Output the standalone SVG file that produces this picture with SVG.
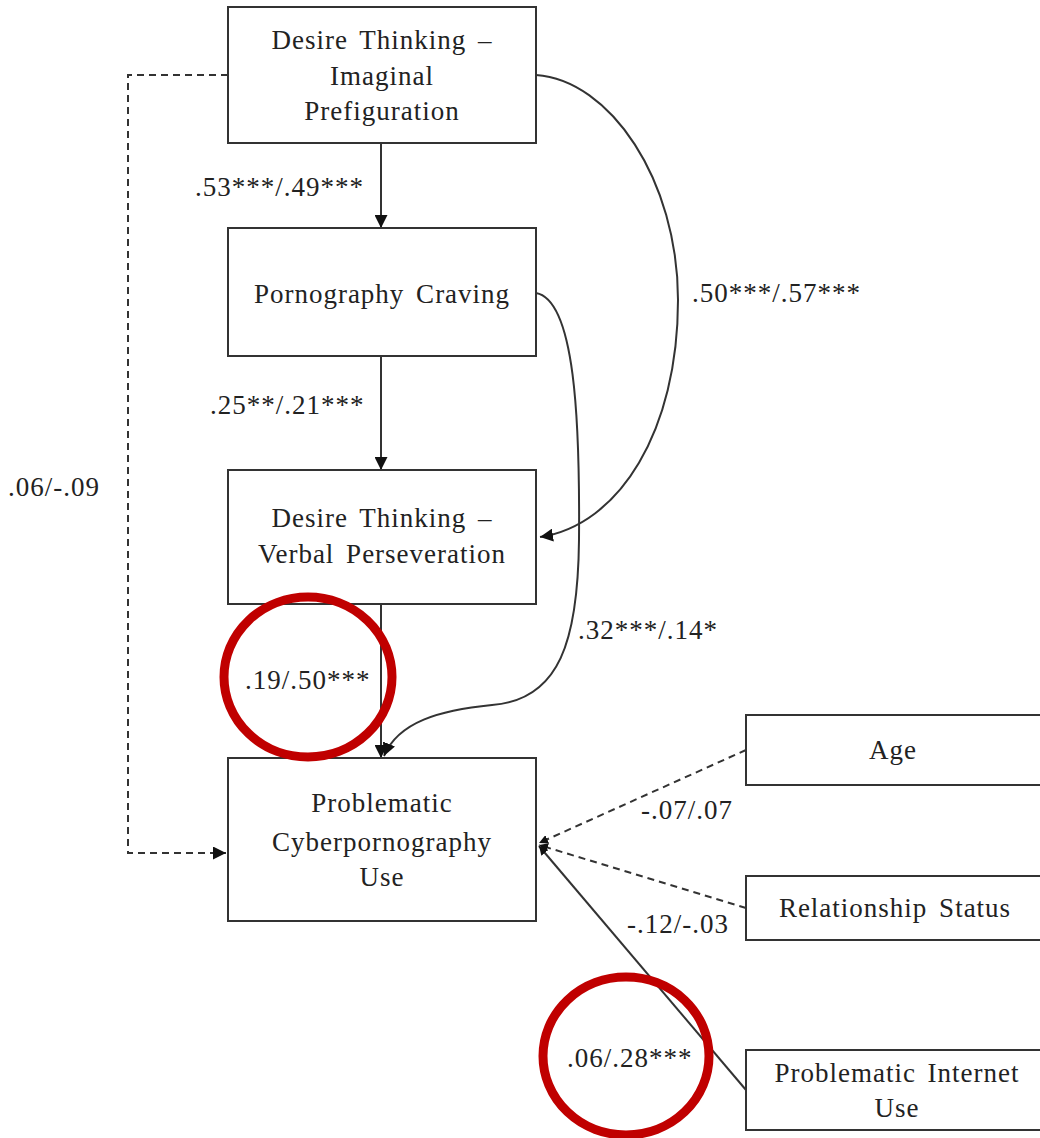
<svg xmlns="http://www.w3.org/2000/svg" width="1040" height="1138" viewBox="0 0 1040 1138">
<style>
.box{fill:#fff;stroke:#333;stroke-width:2}
.t{font-family:"Liberation Serif","Times New Roman",serif;font-size:27px;fill:#222;text-anchor:middle;word-spacing:4px;letter-spacing:1px}
.l{font-family:"Liberation Serif","Times New Roman",serif;font-size:27px;fill:#222;letter-spacing:1px}
.c{fill:none;stroke:#333;stroke-width:2}
.d{fill:none;stroke:#333;stroke-width:2;stroke-dasharray:7,5}
.red{fill:none;stroke:#C00000;stroke-width:9}
</style>
<defs>
<marker id="ah" viewBox="0 0 10 10" refX="10" refY="5" markerWidth="9" markerHeight="9" markerUnits="userSpaceOnUse" orient="auto">
<path d="M0,0 L10,5 L0,10 z" fill="#111"/>
</marker>
<marker id="ah2" viewBox="0 0 10 10" refX="10" refY="5" markerWidth="13" markerHeight="13" markerUnits="userSpaceOnUse" orient="auto">
<path d="M0,0 L10,5 L0,10 z" fill="#111"/>
</marker>
</defs>
<rect width="1040" height="1138" fill="#fff"/>
<g id="connectors">
<line class="c" x1="381" y1="143" x2="381" y2="228" marker-end="url(#ah2)"/>
<line class="c" x1="381" y1="356" x2="381" y2="470" marker-end="url(#ah2)"/>
<line class="c" x1="381" y1="604" x2="381" y2="758" marker-end="url(#ah2)"/>
<path class="d" d="M228,75 H128 V853 H226" marker-end="url(#ah2)"/>
<path class="c" d="M536,75 C610,80 678,180 678,300 C678,430 620,525 540,537" marker-end="url(#ah2)"/>
<path class="c" d="M536,293 C575,300 580,420 579,540 C578,640 560,700 492,705 C440,710 398,722 384,756" marker-end="url(#ah2)"/>
<line class="d" x1="746" y1="750" x2="539" y2="843" marker-end="url(#ah)"/>
<line class="d" x1="746" y1="908" x2="539" y2="845" marker-end="url(#ah)"/>
<line class="c" x1="746" y1="1090" x2="539" y2="846" marker-end="url(#ah)"/>
</g>
<g id="n1"><rect class="box" x="228" y="7" width="308" height="136"/>
<text class="t" x="382" y="49">Desire Thinking –</text>
<text class="t" x="382" y="85">Imaginal</text>
<text class="t" x="382" y="120">Prefiguration</text></g>
<g id="n2"><rect class="box" x="228" y="228" width="308" height="128"/>
<text class="t" x="382" y="303">Pornography Craving</text></g>
<g id="n3"><rect class="box" x="228" y="470" width="308" height="134"/>
<text class="t" x="382" y="527">Desire Thinking –</text>
<text class="t" x="382" y="563">Verbal Perseveration</text></g>
<g id="n4"><rect class="box" x="228" y="758" width="308" height="163"/>
<text class="t" x="382" y="812">Problematic</text>
<text class="t" x="382" y="851">Cyberpornography</text>
<text class="t" x="382" y="886">Use</text></g>
<g id="n5"><rect class="box" x="746" y="715" width="300" height="70"/>
<text class="t" x="893" y="759">Age</text></g>
<g id="n6"><rect class="box" x="746" y="876" width="300" height="64"/>
<text class="t" x="895" y="917">Relationship Status</text></g>
<g id="n7"><rect class="box" x="746" y="1050" width="300" height="80"/>
<text class="t" x="897" y="1082">Problematic Internet</text>
<text class="t" x="897" y="1117">Use</text></g>
<g id="labels">
<text class="l" x="195" y="196">.53***/.49***</text>
<text class="l" x="692" y="302">.50***/.57***</text>
<text class="l" x="210" y="414">.25**/.21***</text>
<text class="l" x="8" y="496">.06/-.09</text>
<text class="l" x="578" y="639">.32***/.14*</text>
<text class="l" x="245" y="689">.19/.50***</text>
<text class="l" x="641" y="819">-.07/.07</text>
<text class="l" x="627" y="933">-.12/-.03</text>
<text class="l" x="567" y="1067">.06/.28***</text>
</g>
<ellipse class="red" cx="308" cy="677" rx="84" ry="80"/>
<ellipse class="red" cx="626" cy="1056" rx="83" ry="79"/>
</svg>
